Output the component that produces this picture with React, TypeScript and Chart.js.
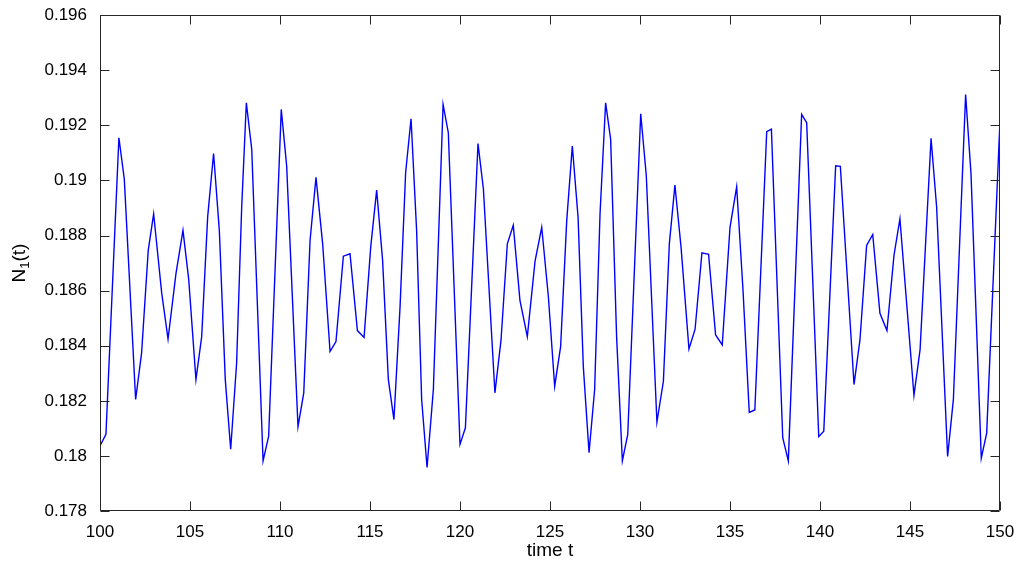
import React, { useEffect, useRef } from "react";
import { Chart, registerables } from "chart.js";

Chart.register(...registerables);

// time t
const tValues: number[] = [
  100.0, 100.33, 101.05, 101.35, 101.98, 102.31, 102.68, 102.98, 103.43, 103.78,
  104.22, 104.61, 104.93, 105.33, 105.65, 105.98, 106.31, 106.63, 106.96, 107.26,
  107.59, 107.87, 108.13, 108.43, 109.06, 109.37, 110.07, 110.37, 111.0, 111.32,
  111.67, 112.0, 112.37, 112.78, 113.11, 113.52, 113.89, 114.3, 114.67, 115.04,
  115.37, 115.7, 116.02, 116.33, 116.67, 116.98, 117.28, 117.59, 117.87, 118.17,
  118.52, 119.06, 119.35, 120.0, 120.3, 121.0, 121.3, 121.94, 122.28, 122.63,
  122.96, 123.33, 123.74, 124.17, 124.54, 124.91, 125.26, 125.59, 125.93, 126.24,
  126.56, 126.85, 127.17, 127.48, 127.78, 128.09, 128.37, 128.7, 129.02, 129.32,
  130.04, 130.35, 130.94, 131.3, 131.63, 131.94, 132.28, 132.72, 133.06, 133.44,
  133.81, 134.2, 134.57, 135.0, 135.37, 135.72, 136.07, 136.38, 137.04, 137.3,
  137.93, 138.24, 138.98, 139.26, 139.93, 140.21, 140.87, 141.13, 141.89, 142.22,
  142.59, 142.93, 143.33, 143.72, 144.11, 144.44, 145.22, 145.56, 146.17, 146.48,
  147.09, 147.41, 148.09, 148.39, 148.96, 149.26, 150.0,
];

// N1(t)
const nValues: number[] = [
  0.18036, 0.18078, 0.19155, 0.19005, 0.18205, 0.18373, 0.18746, 0.18879, 0.1859, 0.18424,
  0.18662, 0.18819, 0.1864, 0.18277, 0.18433, 0.18867, 0.19098, 0.18818, 0.18277, 0.18024,
  0.18337, 0.189, 0.19282, 0.19113, 0.17982, 0.18072, 0.19258, 0.19053, 0.18106, 0.18229,
  0.18782, 0.19011, 0.1877, 0.18379, 0.18415, 0.18725, 0.18734, 0.18455, 0.1843, 0.18758,
  0.18965, 0.1871, 0.18277, 0.18132, 0.18542, 0.19029, 0.19224, 0.18818, 0.18205, 0.17958,
  0.18241, 0.19276, 0.19174, 0.18042, 0.18102, 0.19134, 0.18969, 0.18229, 0.18421, 0.1877,
  0.18837, 0.18565, 0.18433, 0.18707, 0.1883, 0.18578, 0.18253, 0.18397, 0.18855, 0.19125,
  0.18866, 0.18325, 0.18012, 0.18241, 0.1888, 0.19282, 0.19149, 0.18433, 0.17982, 0.18078,
  0.19242, 0.19017, 0.18123, 0.18271, 0.1877, 0.18983, 0.18758, 0.18388, 0.1846, 0.18737,
  0.18732, 0.18439, 0.18403, 0.1883, 0.18977, 0.18605, 0.18158, 0.18167, 0.19177, 0.19186,
  0.18066, 0.17982, 0.1924, 0.1921, 0.1807, 0.1809, 0.19053, 0.19051, 0.18259, 0.18421,
  0.18764, 0.18804, 0.18518, 0.18455, 0.18728, 0.18861, 0.1822, 0.18386, 0.19153, 0.18903,
  0.17998, 0.18205, 0.19312, 0.19023, 0.17992, 0.18083, 0.19218,
];

const xTicks: number[] = [100, 105, 110, 115, 120, 125, 130, 135, 140, 145, 150];
const yTicks: number[] = [0.178, 0.18, 0.182, 0.184, 0.186, 0.188, 0.19, 0.192, 0.194, 0.196];

const xLabel = "time t";
const yLabelMain = "N";
const yLabelSub = "1";
const yLabelTail = "(t)";

const FONT = "'Liberation Sans', Arial, Helvetica, sans-serif";
const AXIS_COLOR = "#262626";

const matlabAxes = {
  id: "matlabAxes",
  afterDraw(chart: any) {
    const { ctx, chartArea } = chart;
    const { left, right, top, bottom } = chartArea;
    const xs = chart.scales.x;
    const ys = chart.scales.y;
    const L = Math.round(left) + 0.5;
    const R = Math.round(right) - 0.5;
    const T = Math.round(top) + 0.5;
    const B = Math.round(bottom) - 0.5;
    ctx.save();
    ctx.strokeStyle = AXIS_COLOR;
    ctx.lineWidth = 1;
    ctx.beginPath();
    ctx.rect(L, T, R - L, B - T);
    const tl = 9;
    for (const v of xTicks) {
      const px = Math.round(xs.getPixelForValue(v)) + 0.5;
      ctx.moveTo(px, B);
      ctx.lineTo(px, B - tl);
      ctx.moveTo(px, T);
      ctx.lineTo(px, T + tl);
    }
    for (const v of yTicks) {
      const py = Math.round(ys.getPixelForValue(v)) + 0.5;
      ctx.moveTo(L, py);
      ctx.lineTo(L + tl, py);
      ctx.moveTo(R, py);
      ctx.lineTo(R - tl, py);
    }
    ctx.stroke();

    // x label
    ctx.fillStyle = "#000";
    ctx.font = `19px ${FONT}`;
    ctx.textAlign = "center";
    ctx.textBaseline = "middle";
    ctx.fillText(xLabel, (left + right) / 2, 551);

    // y label with subscript
    const mainFont = `19px ${FONT}`;
    const subFont = `13px ${FONT}`;
    ctx.font = mainFont;
    const wN = ctx.measureText(yLabelMain).width;
    const wT = ctx.measureText(yLabelTail).width;
    ctx.font = subFont;
    const wS = ctx.measureText(yLabelSub).width;
    const total = wN + wS + wT;
    ctx.translate(18, (top + bottom) / 2);
    ctx.rotate(-Math.PI / 2);
    ctx.textAlign = "left";
    ctx.textBaseline = "alphabetic";
    let cx = -total / 2;
    const base = 7;
    ctx.font = mainFont;
    ctx.fillText(yLabelMain, cx, base);
    cx += wN;
    ctx.font = subFont;
    ctx.fillText(yLabelSub, cx, base + 4);
    cx += wS;
    ctx.font = mainFont;
    ctx.fillText(yLabelTail, cx, base);
    ctx.restore();
  },
};

export default function App() {
  const ref = useRef<HTMLCanvasElement | null>(null);

  useEffect(() => {
    document.body.style.margin = "0";
    const canvas = ref.current;
    if (!canvas) return;
    const points = tValues.map((t, i) => ({ x: t, y: nValues[i] }));
    const chart = new Chart(canvas, {
      type: "line",
      data: {
        datasets: [
          {
            data: points,
            borderColor: "#0000ff",
            borderWidth: 1.4,
            pointRadius: 0,
            tension: 0,
            fill: false,
          },
        ],
      },
      options: {
        responsive: false,
        animation: false,
        maintainAspectRatio: false,
        layout: { padding: { left: 0, right: 24, top: 15, bottom: 0 } },
        plugins: {
          legend: { display: false },
          tooltip: { enabled: false },
          title: { display: false },
        },
        scales: {
          x: {
            type: "linear",
            min: 100,
            max: 150,
            grid: { display: false },
            border: { display: false },
            afterBuildTicks: (scale: any) => {
              scale.ticks = xTicks.map((v) => ({ value: v }));
            },
            afterFit: (scale: any) => {
              scale.height = 55;
            },
            ticks: {
              color: "#000",
              padding: 3,
              maxRotation: 0,
              autoSkip: false,
              font: { family: FONT, size: 17 },
              callback: (v: any) => String(v),
            },
          },
          y: {
            type: "linear",
            min: 0.178,
            max: 0.196,
            grid: { display: false },
            border: { display: false },
            afterBuildTicks: (scale: any) => {
              scale.ticks = yTicks.map((v) => ({ value: v }));
            },
            afterFit: (scale: any) => {
              scale.width = 100;
            },
            ticks: {
              color: "#000",
              padding: 5,
              autoSkip: false,
              font: { family: FONT, size: 17 },
              callback: (v: any) => String(Number(Number(v).toFixed(3))),
            },
          },
        },
      },
      plugins: [matlabAxes],
    });
    return () => chart.destroy();
  }, []);

  return <canvas ref={ref} width={1024} height={566} style={{ display: "block" }} />;
}
